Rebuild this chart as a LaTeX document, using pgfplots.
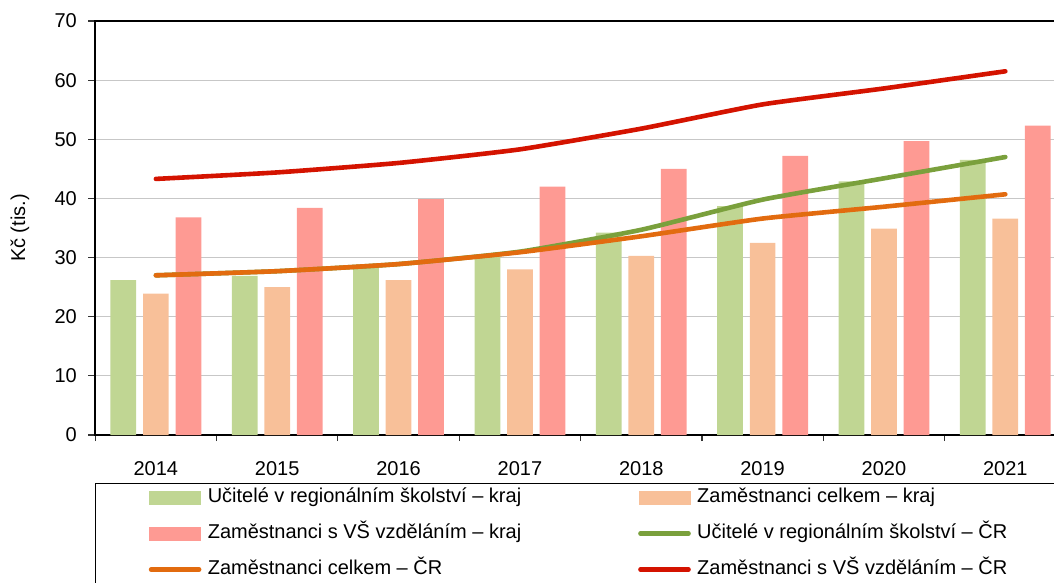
\documentclass[border=0pt]{standalone}
\usepackage{fontspec}
\setmainfont{Liberation Sans}
\usepackage{pgfplots}
\pgfplotsset{compat=1.18}
\definecolor{gbar}{HTML}{C0D693}
\definecolor{pbar}{HTML}{F8C099}
\definecolor{rbar}{HTML}{FE9A93}
\definecolor{gline}{HTML}{7AA03C}
\definecolor{oline}{HTML}{E26B0F}
\definecolor{rline}{HTML}{D41300}
\begin{document}
\begin{tikzpicture}
\clip (-47.6pt,-74pt) rectangle (479.4pt,217.5pt);
\begin{axis}[
  scale only axis,
  width=485.4pt, height=207pt,
  xmin=-0.5, xmax=7.5, ymin=0, ymax=70,
  ytick={0,10,...,70},
  xtick={0,...,7},
  xticklabels={2014,2015,2016,2017,2018,2019,2020,2021},
  minor xtick={-0.5,0.5,...,7.5},
  major x tick style={draw=none},
  minor tick length=3pt,
  major tick length=3.5pt,
  tick align=outside,
  tick pos=left,
  ymajorgrids,
  grid style={draw=black!22, line width=0.6pt},
  axis line style={line width=0.7pt},
  tick style={black!80, line width=0.6pt},
  font=\fontsize{10pt}{12pt}\selectfont,
  ticklabel style={font=\fontsize{10pt}{12pt}\selectfont},
  /pgf/number format/assume math mode=true,
  yticklabel style={anchor=east, inner sep=0pt, xshift=-5.5pt},
  xticklabel style={anchor=base, inner sep=0pt, yshift=-16.5pt},
  ylabel={Kč (tis.)},
  every axis y label/.style={at={(axis description cs:0,0.5)}, xshift=-37.6pt, rotate=90, anchor=center},
  legend columns=2,
  legend style={at={(axis description cs:0,0)}, anchor=north west, yshift=-24pt,
    draw=black, line width=0.6pt, inner xsep=26.5pt, inner ysep=2.5pt,
    row sep=9pt, column sep=0pt,
    font=\fontsize{10pt}{12pt}\selectfont,
    nodes={text height=7pt, text depth=2pt, inner xsep=3.2pt, inner ysep=0pt, anchor=west}},
  legend cell align=left,
]
% bars
\addplot[ybar, bar width=0.212, bar shift=-0.268, fill=gbar, draw=none,
  legend image code/.code={\fill[gbar] (0pt,-3.5pt) rectangle (26pt,3.5pt);}]
  coordinates {(0,26.2) (1,26.9) (2,28.2) (3,30.2) (4,34.2) (5,38.7) (6,42.9) (7,46.5)};
\addlegendentry{\makebox[212pt][l]{Učitelé v regionálním školství – kraj}}
\addplot[ybar, bar width=0.212, bar shift=0, fill=pbar, draw=none,
  legend image code/.code={\fill[pbar] (0pt,-3.5pt) rectangle (26pt,3.5pt);}]
  coordinates {(0,23.9) (1,25.0) (2,26.2) (3,28.0) (4,30.3) (5,32.5) (6,34.9) (7,36.6)};
\addlegendentry{Zaměstnanci celkem – kraj}
\addplot[ybar, bar width=0.212, bar shift=0.268, fill=rbar, draw=none,
  legend image code/.code={\fill[rbar] (0pt,-3.5pt) rectangle (26pt,3.5pt);}]
  coordinates {(0,36.8) (1,38.4) (2,39.9) (3,42.0) (4,45.0) (5,47.2) (6,49.7) (7,52.3)};
\addlegendentry{\makebox[212pt][l]{Zaměstnanci s VŠ vzděláním – kraj}}
% lines
\addplot[gline, line width=2.3pt, line cap=round, smooth, tension=0.3, mark=none,
  legend image code/.code={\draw[gline, line width=2.3pt, line cap=round] (1pt,0pt) -- (25pt,0pt);}]
  coordinates {(0,27.0) (1,27.7) (2,28.9) (3,31.0) (4,34.7) (5,39.8) (6,43.4) (7,47.0)};
\addlegendentry{Učitelé v regionálním školství – ČR}
\addplot[oline, line width=2.3pt, line cap=round, smooth, tension=0.3, mark=none,
  legend image code/.code={\draw[oline, line width=2.3pt, line cap=round] (1pt,0pt) -- (25pt,0pt);}]
  coordinates {(0,27.0) (1,27.7) (2,28.9) (3,30.9) (4,33.6) (5,36.6) (6,38.6) (7,40.7)};
\addlegendentry{\makebox[212pt][l]{Zaměstnanci celkem – ČR}}
\addplot[rline, line width=2.3pt, line cap=round, smooth, tension=0.3, mark=none,
  legend image code/.code={\draw[rline, line width=2.3pt, line cap=round] (1pt,0pt) -- (25pt,0pt);}]
  coordinates {(0,43.3) (1,44.4) (2,46.0) (3,48.3) (4,51.8) (5,55.9) (6,58.6) (7,61.5)};
\addlegendentry{Zaměstnanci s VŠ vzděláním – ČR}
\end{axis}
\end{tikzpicture}
\end{document}
